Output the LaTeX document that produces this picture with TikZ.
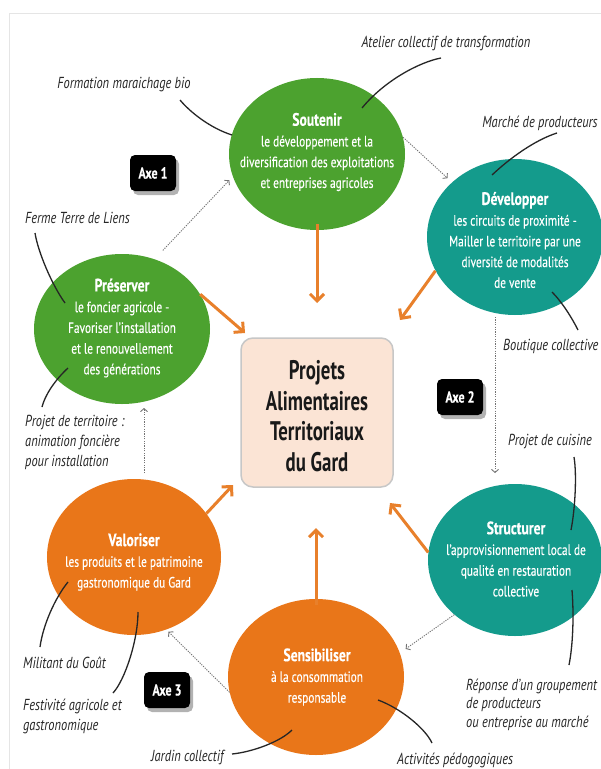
\documentclass[tikz,border=0pt]{standalone}
\usepackage{fontspec}
\setmainfont{PT Sans}
\newfontfamily\cfont[FakeStretch=0.76, FakeBold=0.3]{PT Sans}
\newfontfamily\lfont[FakeStretch=0.78]{PT Sans}
\newfontfamily\bigfont[FakeStretch=0.7]{PT Sans}
\usetikzlibrary{shapes.geometric,arrows.meta,shadows,calc}
\definecolor{cgreen}{HTML}{4CA22F}
\definecolor{cteal}{HTML}{149B8C}
\definecolor{corange}{HTML}{E97619}
\definecolor{carrow}{HTML}{E8802B}
\definecolor{cpeach}{HTML}{FBE4D5}
\definecolor{clabel}{HTML}{262626}
\newcommand\bubtitle{\fontsize{18}{20.5}\selectfont\bfseries}
\begin{document}
\begin{tikzpicture}[x=1bp,y=-1bp,
  bubble/.style={ellipse, minimum width=176bp, minimum height=152bp, inner sep=0pt},
  bubtext/.style={align=center, text=white, inner sep=0pt, font=\cfont\fontsize{15}{20.8}\selectfont},
  centerbox/.style={rectangle, rounded corners=12bp, fill=cpeach, draw=black!22, line width=1.5bp,
    minimum width=152bp, minimum height=149bp, align=center, inner sep=0pt,
    font=\bigfont\fontsize{27}{30.8}\selectfont\bfseries, text=black!90},
  axe/.style={rectangle, fill=black, text=white, rounded corners=5bp, minimum width=46bp, minimum height=36bp,
    inner sep=0pt, font=\cfont\fontsize{16}{16}\selectfont\bfseries,
    drop shadow={shadow xshift=3bp, shadow yshift=-4bp, fill=black, opacity=0.3}},
  lab/.style={inner sep=0pt, text=clabel, font=\lfont\itshape\fontsize{16}{20.5}\selectfont},
  oarrow/.style={draw=carrow, line width=3bp, -{Straight Barb[length=7bp,width=14bp]}},
  darrow/.style={draw=black!55, line width=0.9bp, dash pattern=on 1.2bp off 1.2bp, -{Straight Barb[length=3bp,width=7bp]}},
  lcurve/.style={draw=black!85, line width=1.3bp}
]
\useasboundingbox (0,0) rectangle (601,769);
\fill[white] (0,0) rectangle (601,769);
\draw[black!10, line width=0.8bp] (9,769) -- (9,13) -- (601,13);

% bubbles
\node[bubble, fill=cgreen] (sout) at (317,154) {};
\node[bubble, fill=cteal, minimum height=156bp] (dev) at (515,237) {};
\node[bubble, fill=cgreen, minimum height=150bp] (pres) at (122,329) {};
\node[bubble, fill=corange, minimum width=174bp, minimum height=156bp] (val) at (134,557) {};
\node[bubble, fill=cteal, minimum width=174bp] (str) at (515,560) {};
\node[bubble, fill=corange, minimum height=156bp] (sens) at (316,677) {};

\node[bubtext] (soutT) at (317,152) {{\bubtitle Soutenir}\\le développement et la\\diversification des exploitations\\et entreprises agricoles};
\node[bubtext] (devT) at (515,240) {{\bubtitle Développer}\\les circuits de proximité -\\Mailler le territoire par une\\diversité de modalités\\de vente};
\node[bubtext] (presT) at (122,328) {{\bubtitle Préserver}\\le foncier agricole -\\Favoriser l’installation\\et le renouvellement\\des générations};
\node[bubtext] (valT) at (134,562) {{\bubtitle Valoriser}\\les produits et le patrimoine\\gastronomique du Gard};
\node[bubtext] (strT) at (516,559) {{\bubtitle Structurer}\\l’approvisionnement local de\\qualité en restauration\\collective};
\node[bubtext] (sensT) at (317,677) {{\bubtitle Sensibiliser}\\à la consommation\\responsable};

% center
\node[centerbox] (pat) at (317,412.5) {};
\node[align=center, inner sep=0pt, font=\bigfont\fontsize{27}{30.8}\selectfont\bfseries, text=black!90] (patT) at (317,416) {Projets\\Alimentaires\\Territoriaux\\du Gard};

% axes
\node[axe] (axe1) at (153,173) {Axe 1};
\node[axe] (axe2) at (460,397) {Axe 2};
\node[axe] (axe3) at (167,690) {Axe 3};

% orange arrows
\coordinate (t1) at (317,303);
\coordinate (t2) at (245,333);
\coordinate (t3) at (400,320);
\coordinate (t4) at (233,485);
\coordinate (t5) at (316,528);
\coordinate (t6) at (390,503);
\draw[oarrow, shorten <=-6bp] (sout.south) -- (t1);
\draw[oarrow] (pres.24) -- (t2);
\draw[oarrow] (dev.203) -- (t3);
\draw[oarrow] (val.31) -- (t4);
\draw[oarrow, shorten <=-6bp] (sens.north) -- (t5);
\draw[oarrow] (str.175) -- (t6);

% dotted cycle
\draw[darrow, shorten <=12bp, shorten >=5bp] (pres.65) -- (sout.195);
\draw[darrow, shorten >=6bp] (sout.11) -- (dev.139);
\coordinate (dv1) at (495,317);
\coordinate (dv2) at (495,473);
\draw[darrow] (dv1) -- (dv2);
\draw[darrow, shorten >=7bp] (str.222) -- (sens.16);
\draw[darrow, shorten >=3bp] (sens.190) -- (val.294);
\coordinate (vp1) at (144,473);
\coordinate (vp2) at (144,408);
\draw[darrow] (vp1) -- (vp2);

% labels
\node[lab] (atel) at (446,43) {Atelier collectif de transformation};
\node[lab] (form) at (124,85) {Formation maraichage bio};
\node[lab] (marche) at (540,123) {Marché de producteurs};
\node[lab, anchor=west] (ferme) at (25,218) {Ferme Terre de Liens};
\node[lab, anchor=west, align=left] (terr) at (25,442.5) {Projet de territoire :\\animation foncière\\pour installation};
\node[lab, anchor=west] (bout) at (503,346) {Boutique collective};
\node[lab, anchor=west] (cuis) at (508,442) {Projet de cuisine};
\node[lab, anchor=west, align=left, font=\lfont\itshape\fontsize{16}{18.5}\selectfont] (rep) at (466,704.5) {Réponse d’un groupement\\de producteurs\\ou entreprise au marché};
\node[lab, anchor=west] (mil) at (23,663) {Militant du Goût};
\node[lab, anchor=west, align=left] (fest) at (23,716.5) {Festivité agricole et\\gastronomique};
\node[lab, anchor=west] (jard) at (151,757) {Jardin collectif};
\node[lab, anchor=west] (act) at (397,760) {Activités pédogogiques};

% label connectors
\coordinate (c1a) at (441,58);  \coordinate (c1b) at (362,108);
\coordinate (c2a) at (180,100); \coordinate (c2b) at (232,135);
\coordinate (c3a) at (557,133); \coordinate (c3b) at (492,175);
\coordinate (c4a) at (35,233);  \coordinate (c4b) at (65,303);
\coordinate (c5a) at (42,407);  \coordinate (c5b) at (68,368);
\coordinate (c6a) at (578,330); \coordinate (c6b) at (552,292);
\coordinate (c7a) at (574,457); \coordinate (c7b) at (571,530);
\coordinate (c8a) at (569,665); \coordinate (c8b) at (572,590);
\coordinate (c9a) at (40,647);  \coordinate (c9b) at (68,582);
\coordinate (c10a) at (113,693); \coordinate (c10b) at (138,612);
\coordinate (c11a) at (232,754); \coordinate (c11b) at (292,730);
\coordinate (c12a) at (432,743); \coordinate (c12b) at (378,700);
\draw[lcurve] (c1a) .. controls (420,62) and (385,80) .. (c1b);
\draw[lcurve] (c2a) .. controls (190,112) and (210,128) .. (c2b);
\draw[lcurve] (c3a) .. controls (535,140) and (510,158) .. (c3b);
\draw[lcurve] (c4a) .. controls (38,252) and (52,285) .. (c4b);
\draw[lcurve] (c5a) .. controls (45,395) and (55,380) .. (c5b);
\draw[lcurve] (c6a) .. controls (572,318) and (562,302) .. (c6b);
\draw[lcurve] (c7a) .. controls (577,475) and (575,510) .. (c7b);
\draw[lcurve] (c8a) .. controls (573,645) and (574,615) .. (c8b);
\draw[lcurve] (c9a) .. controls (43,625) and (55,598) .. (c9b);
\draw[lcurve] (c10a) .. controls (125,680) and (138,640) .. (c10b);
\draw[lcurve] (c11a) .. controls (252,752) and (280,742) .. (c11b);
\draw[lcurve] (c12a) .. controls (425,728) and (400,708) .. (c12b);
\end{tikzpicture}
\end{document}
